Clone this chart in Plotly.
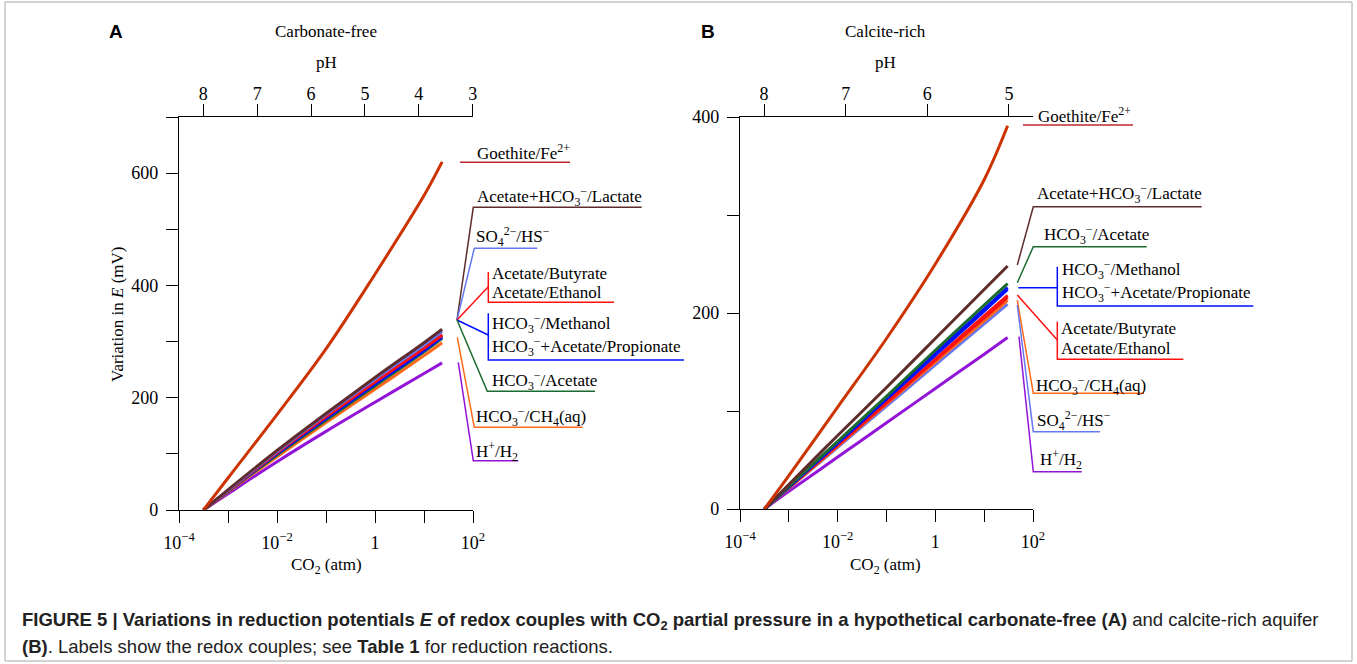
import plotly.graph_objects as go

W, H = 1357, 664

# ---------------- data ----------------
# Panel A: carbonate-free aquifer
logco2_A = [-3.5, -3, -2, -1, 0, 1, 1.37]
A_goethite = [0, 57, 170, 287, 420, 560, 620]
A_lactate = [0, 36, 106, 172, 236, 298, 322]
A_sulfate = [0, 35, 104, 170, 233, 294, 318]
A_butyrate = [0, 35, 103, 168, 230, 290, 313]
A_ethanol = [0, 34, 102, 166, 228, 288, 311]
A_methanol = [0, 34, 101, 165, 226, 286, 310]
A_propionate = [0, 34, 100, 163, 224, 284, 308]
A_acetate = [0, 33, 98, 160, 221, 282, 306]
A_methane = [0, 32, 95, 156, 215, 275, 298]
A_hydrogen = [0, 29, 86, 140, 192, 243, 262]

# Panel B: calcite-rich aquifer
logco2_B = [-3.5, -3, -2, -1, 0, 1, 1.48]
B_goethite = [0, 34, 104, 174, 250, 336, 391]
B_lactate = [0, 25, 75, 124, 174, 224, 248]
B_acetate = [0, 23, 69, 115, 162, 208, 230]
B_methanol = [0, 23, 68, 113, 159, 204, 226]
B_propionate = [0, 22, 67, 112, 157, 202, 224]
B_butyrate = [0, 22, 66, 109, 153, 197, 218]
B_ethanol = [0, 22, 65, 108, 152, 195, 216]
B_methane = [0, 21, 64, 107, 150, 192, 213]
B_sulfate = [0, 21, 63, 105, 147, 189, 209]
B_hydrogen = [0, 18, 53, 88, 123, 158, 175]

x_tickvals = [1e-4, 1e-3, 1e-2, 1e-1, 1, 10, 100]
x_ticktext = ["10<sup>\u22124</sup>", "", "10<sup>\u22122</sup>", "", "1", "", "10<sup>2</sup>"]
pH_ticks_A = [8, 7, 6, 5, 4, 3]
pH_ticks_B = [8, 7, 6, 5]
yA_tickvals = [0, 100, 200, 300, 400, 500, 600, 700]
yA_ticktext = ["0", "", "200", "", "400", "", "600", ""]
yB_tickvals = [0, 100, 200, 300, 400]
yB_ticktext = ["0", "", "200", "", "400"]

# ---------------- styles ----------------
C_GOE = "#CC3300"
C_GOE_LBL = "#C0272D"
C_LAC = "#5E2C2C"
C_SO4 = "#6677F2"
C_RED = "#FF1010"
C_BLUE = "#0010FF"
C_GRN = "#1B6B30"
C_ORG = "#FF6A1A"
C_PUR = "#9214D8"
SERIF = "Liberation Serif"
SANS = "Liberation Sans"


def px(x):
    return x / W


def py(y):
    return 1 - y / H


fig = go.Figure()


def tenpow(vals):
    return [10 ** v for v in vals]


seriesA = [
    (A_hydrogen, C_PUR, "H+/H2"),
    (A_methane, C_ORG, "HCO3-/CH4(aq)"),
    (A_acetate, C_GRN, "HCO3-/Acetate"),
    (A_propionate, C_BLUE, "HCO3-+Acetate/Propionate"),
    (A_methanol, C_BLUE, "HCO3-/Methanol"),
    (A_ethanol, C_RED, "Acetate/Ethanol"),
    (A_butyrate, C_RED, "Acetate/Butyrate"),
    (A_sulfate, C_SO4, "SO4/HS"),
    (A_lactate, C_LAC, "Acetate+HCO3-/Lactate"),
    (A_goethite, C_GOE, "Goethite/Fe2+"),
]
seriesB = [
    (B_hydrogen, C_PUR, "H+/H2"),
    (B_sulfate, C_SO4, "SO4/HS"),
    (B_methane, C_ORG, "HCO3-/CH4(aq)"),
    (B_ethanol, C_RED, "Acetate/Ethanol"),
    (B_butyrate, C_RED, "Acetate/Butyrate"),
    (B_propionate, C_BLUE, "HCO3-+Acetate/Propionate"),
    (B_methanol, C_BLUE, "HCO3-/Methanol"),
    (B_acetate, C_GRN, "HCO3-/Acetate"),
    (B_lactate, C_LAC, "Acetate+HCO3-/Lactate"),
    (B_goethite, C_GOE, "Goethite/Fe2+"),
]

for vals, col, name in seriesA:
    fig.add_trace(go.Scatter(x=tenpow(logco2_A), y=vals, mode="lines", name=name,
                             line=dict(color=col, width=3, shape="spline", smoothing=1.0),
                             xaxis="x", yaxis="y", showlegend=False, hoverinfo="skip"))
for vals, col, name in seriesB:
    fig.add_trace(go.Scatter(x=tenpow(logco2_B), y=vals, mode="lines", name=name,
                             line=dict(color=col, width=3, shape="spline", smoothing=1.0),
                             xaxis="x2", yaxis="y2", showlegend=False, hoverinfo="skip"))

# empty helper traces so that the secondary (pH) axes on top are drawn
fig.add_trace(go.Scatter(x=pH_ticks_A, y=[None] * len(pH_ticks_A), mode="lines",
                         xaxis="x3", yaxis="y", showlegend=False, hoverinfo="skip"))
fig.add_trace(go.Scatter(x=pH_ticks_B, y=[None] * len(pH_ticks_B), mode="lines",
                         xaxis="x4", yaxis="y2", showlegend=False, hoverinfo="skip"))

tickfont = dict(family=SERIF, size=18, color="black")
base = dict(ticks="outside", ticklen=12, tickwidth=1.3, tickcolor="black",
            showline=True, linecolor="black", linewidth=1.3, showgrid=False,
            zeroline=False, tickfont=tickfont, automargin=False)
common_x = dict(type="log", range=[-4, 2], tickvals=x_tickvals, ticktext=x_ticktext,
                ticklabelstandoff=4, **base)
common_y = dict(ticklabelstandoff=4, **base)
common_top = dict(side="top", ticklabelstandoff=-3, **base)

fig.update_layout(
    template="none",
    width=W, height=H, margin=dict(l=0, r=0, t=0, b=0, pad=0, autoexpand=False),
    paper_bgcolor="white", plot_bgcolor="white", showlegend=False,
    xaxis=dict(domain=[px(179), px(473)], anchor="y", **common_x),
    yaxis=dict(domain=[py(510), py(117)], anchor="x", range=[0, 700],
               tickvals=yA_tickvals, ticktext=yA_ticktext, **common_y),
    xaxis2=dict(domain=[px(740), px(1033)], anchor="y2", **common_x),
    yaxis2=dict(domain=[py(509), py(117)], anchor="x2", range=[0, 400],
                tickvals=yB_tickvals, ticktext=yB_ticktext, **common_y),
    xaxis3=dict(overlaying="x", anchor="y", range=[8.45, 2.995], tickvals=pH_ticks_A,
                **common_top),
    xaxis4=dict(overlaying="x2", anchor="y2", range=[8.294, 4.706], tickvals=pH_ticks_B,
                **common_top),
)

shapes = []
annots = []


def poly(points, color, width=1.5):
    d = "M " + " L ".join(f"{px(x):.5f},{py(y):.5f}" for x, y in points)
    shapes.append(dict(type="path", path=d, xref="paper", yref="paper",
                       line=dict(color=color, width=width)))


def label(x, y, text, size=17, color="black", family=SERIF, anchor="left", angle=0):
    annots.append(dict(x=px(x), y=py(y), xref="paper", yref="paper", text=text,
                       showarrow=False, xanchor=anchor, yanchor="middle",
                       textangle=angle, font=dict(family=family, size=size, color=color)))


HCO3 = "HCO<sub>3</sub><sup>\u2212</sup>"
SO4 = "SO<sub>4</sub><sup>2\u2212</sup>/HS<sup>\u2212</sup>"

# Panel A leaders
poly([(460, 162.3), (570, 162.3)], C_GOE_LBL)
poly([(457, 320), (473.3, 207.3), (641.7, 207.3)], C_LAC)
poly([(457, 320), (474.3, 248.3), (537.3, 248.3)], C_SO4)
poly([(457, 320), (488.3, 286.7)], C_RED)
poly([(488.3, 272), (488.3, 302.3), (614, 302.3)], C_RED)
poly([(457, 320), (488.3, 335)], C_BLUE)
poly([(488.3, 313.3), (488.3, 360), (684, 360)], C_BLUE)
poly([(457, 320), (487.3, 391.3), (595, 391.3)], C_GRN)
poly([(457.3, 337.3), (474.3, 427.3), (582.7, 427.3)], C_ORG)
poly([(458.3, 362.3), (473.3, 460.7), (518.3, 460.7)], C_PUR)

label(475, 152, "Goethite/Fe<sup>2+</sup>")
label(475, 196, "Acetate+" + HCO3 + "/Lactate")
label(474, 236, SO4)
label(490, 273, "Acetate/Butyrate")
label(490, 293, "Acetate/Ethanol")
label(490, 323, HCO3 + "/Methanol")
label(490, 347, HCO3 + "+Acetate/Propionate")
label(490, 380, HCO3 + "/Acetate")
label(474, 416, HCO3 + "/CH<sub>4</sub>(aq)")
label(474, 451, "H<sup>+</sup>/H<sub>2</sub>")

# Panel B leaders
poly([(1023, 125), (1133, 125)], C_GOE_LBL)
poly([(1017.3, 265), (1033.3, 206.7), (1201.7, 206.7)], C_LAC)
poly([(1017.3, 282.7), (1033.3, 246.7), (1146.7, 246.7)], C_GRN)
poly([(1018.3, 287.7), (1057.3, 287.7)], C_BLUE)
poly([(1057.3, 266.7), (1057.3, 306), (1253.3, 306)], C_BLUE)
poly([(1017.3, 295), (1057.3, 340)], C_RED)
poly([(1057.3, 321.7), (1057.3, 359.3), (1183.3, 359.3)], C_RED)
poly([(1017.3, 300), (1033.3, 393.3), (1144, 393.3)], C_ORG)
poly([(1017.3, 305), (1033.3, 431.7), (1100, 431.7)], C_SO4)
poly([(1019, 336.7), (1033.3, 471.7), (1081.7, 471.7)], C_PUR)

label(1036, 115, "Goethite/Fe<sup>2+</sup>")
label(1035, 193, "Acetate+" + HCO3 + "/Lactate")
label(1042, 235, HCO3 + "/Acetate")
label(1060, 270, HCO3 + "/Methanol")
label(1060, 293, HCO3 + "+Acetate/Propionate")
label(1059, 329, "Acetate/Butyrate")
label(1059, 348, "Acetate/Ethanol")
label(1034, 385, HCO3 + "/CH<sub>4</sub>(aq)")
label(1035, 420, SO4)
label(1038, 460, "H<sup>+</sup>/H<sub>2</sub>")

# titles
label(326, 31, "Carbonate-free", anchor="center")
label(326, 62, "pH", anchor="center")
label(886, 31, "Calcite-rich", anchor="center")
label(886, 62, "pH", anchor="center")
label(326, 566, "CO<sub>2</sub> (atm)", anchor="center")
label(886, 566, "CO<sub>2</sub> (atm)", anchor="center")
label(117, 314, "Variation in <i>E</i> (mV)", anchor="center", angle=-90)
label(116, 31, "<b>A</b>", size=19, family=SANS, anchor="center")
label(708, 31, "<b>B</b>", size=19, family=SANS, anchor="center")

# caption
label(20, 621, "<b>FIGURE 5 | Variations in reduction potentials <i>E</i> of redox couples with CO<sub>2</sub> "
      "partial pressure in a hypothetical carbonate-free (A)</b> and calcite-rich aquifer",
      size=18.5, family=SANS, color="#222222")
label(20, 646, "<b>(B)</b>. Labels show the redox couples; see <b>Table 1</b> for reduction reactions.",
      size=18.5, family=SANS, color="#222222")

# outer frame
shapes.append(dict(type="rect", xref="paper", yref="paper", x0=px(5), x1=px(1352),
                   y0=py(661), y1=py(2), line=dict(color="#A8A8A8", width=1)))

fig.update_layout(shapes=shapes, annotations=annots)
fig.write_html("out.html")
